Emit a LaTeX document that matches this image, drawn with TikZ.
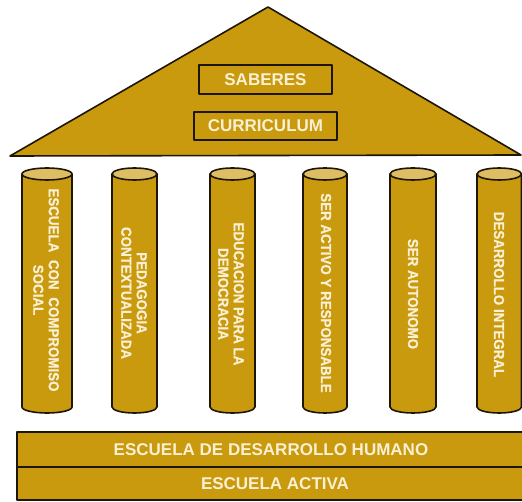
\documentclass[tikz,border=0pt]{standalone}
\usepackage{fontspec}
\setmainfont{Liberation Sans}
\newfontfamily\colfont[FakeBold=0.8,FakeStretch=0.92]{Liberation Sans Bold}
\definecolor{gold}{RGB}{201,153,14}
\definecolor{goldtop}{RGB}{222,190,100}
\definecolor{cream}{RGB}{250,240,212}
\definecolor{edge}{RGB}{30,22,5}
\begin{document}
\begin{tikzpicture}[x=1pt,y=-1pt,
  outline/.style={draw=edge,line width=1.6pt,line join=round},
  titletext/.style={text=cream,font=\bfseries\fontsize{17}{19}\selectfont,inner sep=0pt},
  coltext/.style={text=cream,font=\colfont\fontsize{14.5}{15.5}\selectfont,inner sep=0pt,rotate=-90,align=center}]
\useasboundingbox[fill=white] (0,0) rectangle (522,502);
% roof
\draw[outline,fill=gold] (268,7) -- (521,155) -- (10,156) -- cycle;
\node[outline,fill=gold,minimum width=133pt,minimum height=29pt,inner sep=0pt] (saberesbox) at (265.5,79.5) {};
\node[titletext] (saberes) at (saberesbox.center) {SABERES};
\node[outline,fill=gold,minimum width=143pt,minimum height=28pt,inner sep=0pt] (curbox) at (265.5,126) {};
\node[titletext] (curriculum) at (curbox.center) {CURRICULUM};
% columns
\foreach \l/\r/\n in {22/72/c1,112/157/c2,210/255/c3,303/347/c4,390/436/c5,477/521.5/c6}{
  \pgfmathsetmacro\cx{(\l+\r)/2}
  \pgfmathsetmacro\rx{(\r-\l)/2}
  \draw[outline,fill=gold] (\l,174) -- (\l,407) arc[start angle=180,end angle=0,x radius=\rx,y radius=6] -- (\r,174) -- cycle;
  \draw[outline,fill=goldtop] (\cx,174) ellipse[x radius=\rx,y radius=6];
  \coordinate (\n) at (\cx,292);
}
\node[coltext] (t1) at (46,290) {\makebox[203pt][s]{ESCUELA\hfill CON\hfill COMPROMISO}\\SOCIAL};
\node[coltext] (t2) at (134,293) {PEDAGOGIA\\CONTEXTUALIZADA};
\node[coltext] (t3) at (231,294) {EDUCACION PARA LA\\DEMOCRACIA};
\node[coltext] (t4) at (326,293) {SER ACTIVO Y RESPONSABLE};
\node[coltext] (t5) at (413,294) {SER AUTONOMO};
\node[coltext] (t6) at (499,294.5) {DESARROLLO INTEGRAL};
% base
\draw[outline,fill=gold] (17,432) rectangle (530,467);
\draw[outline,fill=gold] (17,467) rectangle (530,500);
\node[titletext] (humano) at (271,449.5) {ESCUELA DE DESARROLLO HUMANO};
\node[titletext] (activa) at (275,483.5) {ESCUELA ACTIVA};
\end{tikzpicture}
\end{document}
